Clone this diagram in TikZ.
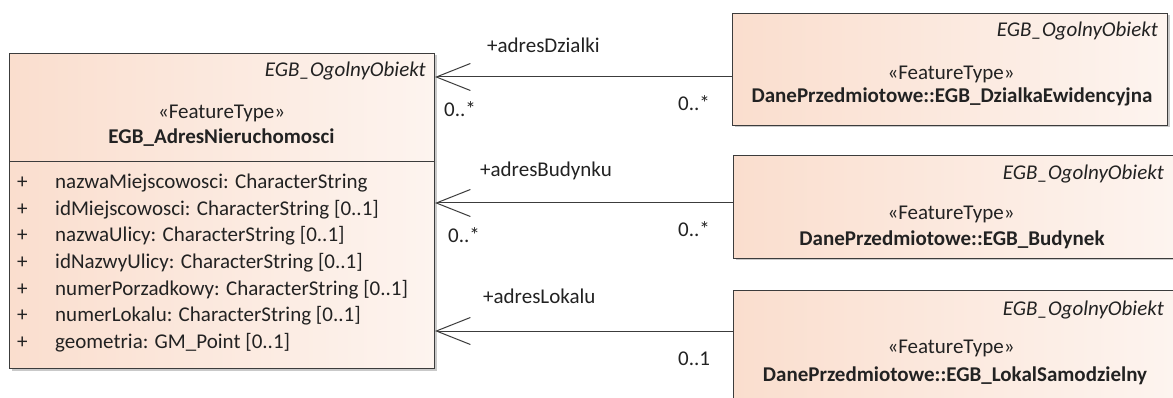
\documentclass[tikz,border=0pt]{standalone}
\usepackage{fontspec}
\setmainfont{Carlito}
\usetikzlibrary{arrows.meta,shadows}
\definecolor{peachL}{HTML}{FADECE}
\definecolor{peachR}{HTML}{FDF4EF}
\definecolor{edge}{HTML}{3C3C3C}
\definecolor{txt}{HTML}{222222}
\tikzset{
  cls/.style={draw=edge, line width=1pt, left color=peachL, right color=peachR,
    drop shadow={shadow xshift=2pt, shadow yshift=-2pt, fill=black!35, opacity=.6},
    inner sep=0pt, anchor=north west},
  t/.style={inner sep=0pt, text=txt, font=\fontsize{21}{25}\selectfont},
  ti/.style={t, font=\fontsize{21}{25}\selectfont\itshape},
  tb/.style={t, font=\fontsize{21}{25}\selectfont\bfseries},
  assoc/.style={draw=edge, line width=1pt, -{Straight Barb[length=34pt,width=27pt,line width=1pt]}},
}
\begin{document}
\begin{tikzpicture}[x=1pt,y=-1pt]
\useasboundingbox (0,0) rectangle (1173,398);
\fill[white] (0,0) rectangle (1173,398);
\begin{scope}
\clip (0,0) rectangle (1173,398);
% left class
\node[cls, minimum width=425pt, minimum height=315pt] (adres) at (9,53) {};
\draw[edge, line width=1pt] (adres.west |- 0,162) coordinate (dl) -- (adres.east |- 0,162) coordinate (dr);
\node[ti, anchor=base east] (ah) at (426,77) {EGB\_OgolnyObiekt};
\node[t, anchor=base] (as) at (221.5,119) {«FeatureType»};
\node[tb, anchor=base] (an) at (221.5,144) {EGB\_AdresNieruchomosci};
\foreach \txt [count=\i from 0] in {nazwaMiejscowosci: CharacterString,
  idMiejscowosci: CharacterString [0..1],
  nazwaUlicy: CharacterString [0..1],
  idNazwyUlicy: CharacterString [0..1],
  numerPorzadkowy: CharacterString [0..1],
  numerLokalu: CharacterString [0..1],
  geometria: GM\_Point [0..1]} {
  \node[t, anchor=base west] (p\i) at (17,189+26.5*\i) {+};
  \node[t, anchor=base west] (at\i) at (55,189+26.5*\i) {\txt};
}
% right classes
\node[cls, minimum width=435pt, minimum height=112pt] (dz) at (732,13) {};
\node[ti, anchor=base east] (dzh) at (1158,37) {EGB\_OgolnyObiekt};
\node[t, anchor=base] (dzs) at (951,80) {«FeatureType»};
\node[tb, anchor=base] (dzn) at (952,103) {DanePrzedmiotowe::EGB\_DzialkaEwidencyjna};

\node[cls, minimum width=440pt, minimum height=103pt] (bu) at (733,155) {};
\node[ti, anchor=base east] (buh) at (1164,180) {EGB\_OgolnyObiekt};
\node[t, anchor=base] (bus) at (951,220) {«FeatureType»};
\node[tb, anchor=base] (bun) at (952,246) {DanePrzedmiotowe::EGB\_Budynek};

\node[cls, minimum width=440pt, minimum height=130pt] (lo) at (733,290) {};
\node[ti, anchor=base east] (loh) at (1164,315) {EGB\_OgolnyObiekt};
\node[t, anchor=base] (los) at (951,353) {«FeatureType»};
\node[tb, anchor=base] (lon) at (955,381) {DanePrzedmiotowe::EGB\_LokalSamodzielny};

% associations
\draw[assoc] (dz.west |- 0,77) -- (adres.east |- 0,77);
\draw[assoc] (bu.west |- 0,203) -- (adres.east |- 0,203);
\draw[assoc] (lo.west |- 0,331) -- (adres.east |- 0,331);

\node[t, anchor=base west] (r1) at (487,53) {+adresDzialki};
\node[t, anchor=base west] (m1a) at (444,117) {0..*};
\node[t, anchor=base west] (m1b) at (678,111) {0..*};
\node[t, anchor=base west] (r2) at (480,177) {+adresBudynku};
\node[t, anchor=base west] (m2a) at (448,243) {0..*};
\node[t, anchor=base west] (m2b) at (678,237) {0..*};
\node[t, anchor=base west] (r3) at (483,303) {+adresLokalu};
\node[t, anchor=base west] (m3b) at (678,365) {0..1};
\end{scope}
\end{tikzpicture}
\end{document}
